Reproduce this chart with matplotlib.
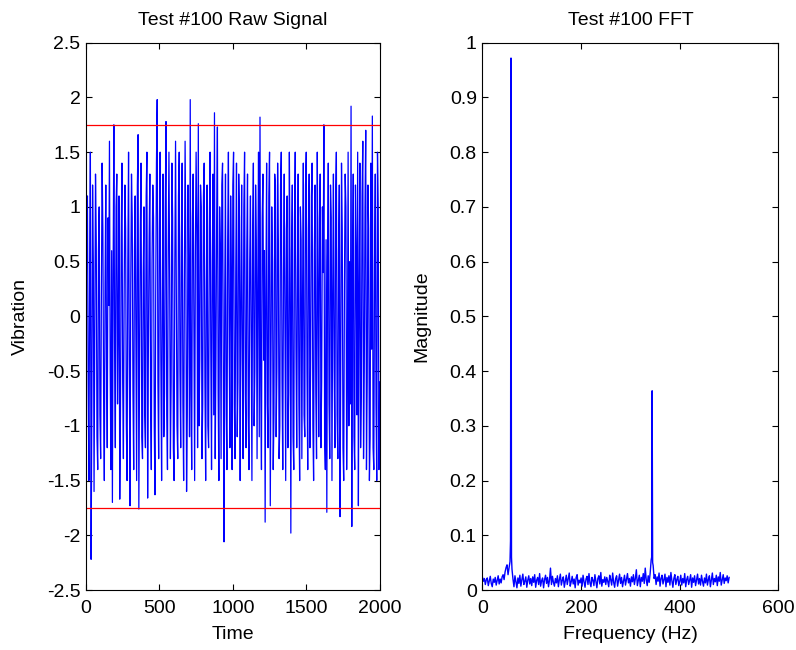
import numpy as np
import matplotlib
matplotlib.use("Agg")
import matplotlib.pyplot as plt

plt.rcParams['font.family'] = ['Liberation Sans', 'DejaVu Sans']

# ---- Raw signal (time step 5) ----
signal_step = 5
signal_values = [
    -0.3, 0.9, 1.1, -0.6, -1.5, 0.4, 1.5, -2.22, -0.8, 1.2, 0.5, -1.6, -0.2, 1.3, 0.7, -1.1, -1.4, 0.6, 1.0, -0.9,
    -1.3, 0.2, 1.4, 0.8, -0.7, -1.5, 0.3, 1.2, -0.4, -1.2, 0.9, 0.1, 1.6, -0.5, -1.4, 0.6, -1.70, 0.4, 1.75, -0.3,
    -1.2, 1.0, 1.3, -0.8, -0.1, 1.1, -1.67, -0.9, 0.7, 1.4, -0.6, -1.3, 0.2, 1.2, 0.8, -1.0, -1.5, 0.5, 1.5, -0.4,
    -1.73, 0.3, 1.3, 0.9, -0.7, -1.4, 0.6, 1.1, -0.2, -1.5, 1.2, 1.66, -1.76, -0.5, 0.8, 1.4, -1.1, -1.3, 0.4, 1.0,
    -0.9, -1.2, 1.1, 1.5, -1.66, -0.3, 0.7, 1.3, -0.8, -1.4, 0.5, 1.2, 0.9, -1.0, -1.63, 0.2, 1.4, 1.98, -0.6, -1.3,
    0.8, 1.5, -0.4, -1.5, 0.1, 1.3, -1.1, -0.7, 1.0, 1.78, -0.9, -1.4, 0.6, 1.5, 0.3, -1.3, -0.6, 1.4, 0.9, -1.2,
    -1.5, 0.5, 1.6, 0.2, -1.0, -1.3, 1.1, 1.5, -0.5, -1.2, 0.7, 1.4, -0.8, -1.5, 0.3, 1.6, 0.6, -1.6, -0.9, 1.2,
    0.4, -1.1, 1.98, -0.7, -1.4, 0.9, 1.3, -0.2, -1.5, 0.6, 1.5, 0.8, -1.2, 1.76, -1.0, -0.4, 1.2, 1.0, -1.3, -0.8,
    1.1, 1.4, -0.6, -1.5, 0.3, 1.2, -1.0, -1.2, 0.8, 1.5, -0.3, -1.4, 0.5, 1.3, -0.9, 1.86, -1.3, -0.4, 0.9, 1.73,
    -0.7, -1.5, 1.0, 0.6, -1.3, 1.2, 1.4, -0.5, -2.06, 0.2, 1.3, -0.9, -1.4, 0.7, 1.5, -0.2, -1.2, 1.1, 0.4, -1.4,
    1.2, 1.5, -0.8, -1.3, 0.4, 1.4, -1.1, -0.6, 1.3, 0.9, -1.5, 0.1, 1.2, -0.4, -1.3, 1.0, 1.5, -0.7, -1.2, 0.6,
    1.3, -0.9, -1.4, 0.5, 1.1, -0.3, -1.5, 0.8, 1.4, -1.0, -0.5, 1.2, 0.7, -1.3, 0.3, 1.5, -1.1, 1.82, -0.6, -1.4,
    0.9, 1.3, -0.4, 0.6, -1.88, 0.2, 1.4, -0.8, -1.2, 1.1, 1.5, -1.73, -0.3, 1.0, 0.5, -1.4, -0.9, 1.3, 1.2, -1.1,
    -0.5, 1.4, 0.7, -1.3, -1.0, 1.2, 1.5, -0.6, -1.4, 0.4, 1.3, -0.2, -1.5, 0.8, 1.1, -1.2, -0.7, 1.5, 0.3, -1.98,
    0.6, 1.2, -1.1, -1.4, 0.9, 1.5, -0.3, -1.2, 0.4, 1.3, -0.8, -1.5, 1.0, 0.7, -1.3, 0.2, 1.4, -0.9, -1.1, 1.2,
    1.5, -0.5, -1.4, 0.8, 1.3, -1.2, -0.4, 1.1, 1.4, -1.0, -1.5, 0.6, 1.2, -0.7, -1.3, 1.5, 0.3, -1.1, 0.9, 1.3,
    -1.2, -0.6, 1.0, 0.4, 1.75, -1.1, -1.4, 0.7, -1.79, 0.5, 1.4, -0.8, -1.3, 1.2, 0.9, -1.5, 0.2, 1.3, -0.5, -1.2,
    1.1, 1.5, -0.9, -1.3, 0.6, 1.2, -1.83, -0.4, 1.4, 0.8, -1.2, -1.5, 0.3, 1.3, 1.0, -1.4, -0.6, 1.5, -1.0, 0.5,
    -0.8, 1.92, -1.92, 0.4, 1.3, -1.1, -1.4, 1.2, 0.6, -0.9, 1.5, -1.73, 0.2, 1.4, -1.2, -0.7, 1.1, 1.6, -1.3, -0.5,
    1.0, 1.70, -1.4, -0.6, 1.2, 0.8, -1.5, -1.1, 1.4, -0.3, 1.83, -1.2, -1.4, 0.5, 1.3, -0.8, -1.5, 1.5, 1.0, -1.4,
    -0.6,
]
threshold_upper = 1.75
threshold_lower = -1.75

# ---- FFT magnitude (frequency step 2 Hz) ----
fft_step = 2
fft_values = [
    0.024, 0.016, 0.021, 0.010, 0.019, 0.022, 0.008, 0.017, 0.025, 0.012, 0.006, 0.020, 0.014, 0.023, 0.009, 0.018, 0.026, 0.011, 0.020, 0.013, 0.024, 0.028, 0.019, 0.033, 0.041,
    0.046, 0.028, 0.040, 0.052, 0.972, 0.038, 0.020, 0.006, 0.026, 0.015, 0.004, 0.022, 0.012, 0.027, 0.007, 0.019, 0.029, 0.010, 0.016, 0.024, 0.005, 0.018, 0.026, 0.011, 0.021,
    0.008, 0.024, 0.014, 0.028, 0.005, 0.018, 0.023, 0.010, 0.030, 0.007, 0.017, 0.022, 0.004, 0.019, 0.027, 0.012, 0.023, 0.006, 0.018, 0.040, 0.010, 0.025, 0.014, 0.007, 0.021,
    0.013, 0.026, 0.006, 0.019, 0.029, 0.009, 0.018, 0.024, 0.005, 0.016, 0.027, 0.010, 0.021, 0.031, 0.007, 0.015, 0.025, 0.011, 0.020, 0.004, 0.023, 0.028, 0.009, 0.018, 0.013,
    0.022, 0.007, 0.027, 0.015, 0.005, 0.020, 0.025, 0.010, 0.030, 0.013, 0.006, 0.023, 0.018, 0.008, 0.028, 0.016, 0.004, 0.021, 0.026, 0.011, 0.032, 0.007, 0.019, 0.014, 0.024,
    0.010, 0.023, 0.016, 0.006, 0.027, 0.019, 0.009, 0.031, 0.014, 0.005, 0.021, 0.026, 0.007, 0.018, 0.029, 0.012, 0.023, 0.006, 0.017, 0.027, 0.009, 0.020, 0.030, 0.013, 0.021,
    0.007, 0.024, 0.015, 0.028, 0.010, 0.021, 0.037, 0.008, 0.018, 0.027, 0.006, 0.023, 0.016, 0.030, 0.012, 0.040, 0.019, 0.008, 0.026, 0.014, 0.031, 0.055, 0.364, 0.045, 0.021,
    0.028, 0.010, 0.024, 0.016, 0.031, 0.007, 0.021, 0.027, 0.011, 0.019, 0.029, 0.006, 0.023, 0.014, 0.026, 0.009, 0.032, 0.017, 0.005, 0.021, 0.028, 0.010, 0.019, 0.025, 0.008,
    0.016, 0.027, 0.009, 0.021, 0.013, 0.030, 0.006, 0.019, 0.025, 0.010, 0.018, 0.028, 0.005, 0.022, 0.014, 0.026, 0.008, 0.019, 0.029, 0.011, 0.021, 0.009, 0.027, 0.016, 0.007,
    0.022, 0.013, 0.029, 0.009, 0.019, 0.026, 0.006, 0.018, 0.031, 0.010, 0.021, 0.015, 0.027, 0.008, 0.024, 0.016, 0.032, 0.009, 0.019, 0.028, 0.012, 0.022, 0.017, 0.026, 0.013,
    0.023,
]
# extra finely-spaced points around the two peaks
fine_freqs = [57, 59, 343, 345]
fine_values = [0.09, 0.06, 0.06, 0.05]

raw_xticks = [0, 500, 1000, 1500, 2000]
raw_yticks = [-2.5, -2, -1.5, -1, -0.5, 0, 0.5, 1, 1.5, 2, 2.5]
fft_xticks = [0, 200, 400, 600]
fft_yticks = [0, 0.1, 0.2, 0.3, 0.4, 0.5, 0.6, 0.7, 0.8, 0.9, 1]

# ---- build arrays ----
t = np.arange(len(signal_values)) * signal_step
sig = np.array(signal_values)

f_coarse = np.arange(len(fft_values)) * fft_step
f_all = np.concatenate([f_coarse, fine_freqs])
m_all = np.concatenate([fft_values, fine_values])
order = np.argsort(f_all, kind="stable")
f_all = f_all[order]
m_all = m_all[order]

FS = 14

fig = plt.figure(figsize=(7.96, 6.5), dpi=100)
ax1 = fig.add_axes([0.108, 0.0923, 0.369, 0.842])
ax2 = fig.add_axes([0.606, 0.0923, 0.372, 0.842])

def matlab_style(ax):
    for s in ax.spines.values():
        s.set_linewidth(0.8)
        s.set_color('black')
    ax.tick_params(direction='in', top=True, right=True, length=4, width=0.8,
                   labelsize=FS, colors='black')
    ax.tick_params(axis='x', pad=7.5)
    ax.tick_params(axis='y', pad=4)

ax1.plot(t, sig, color='blue', linewidth=0.9)
ax1.axhline(threshold_upper, color='red', linewidth=0.9)
ax1.axhline(threshold_lower, color='red', linewidth=0.9)
ax1.set_xlim(0, 2000)
ax1.set_ylim(-2.5, 2.5)
ax1.set_xticks(raw_xticks)
ax1.set_xticklabels([f"{v:g}" for v in raw_xticks])
ax1.set_yticks(raw_yticks)
ax1.set_yticklabels([f"{v:g}" for v in raw_yticks])
ax1.set_title("Test #100 Raw Signal", fontsize=FS, pad=12.5)
ax1.set_xlabel("Time", fontsize=FS)
ax1.set_ylabel("Vibration", fontsize=FS)
ax1.xaxis.set_label_coords(0.5, -0.066)
ax1.yaxis.set_label_coords(-0.194, 0.5)
matlab_style(ax1)

ax2.plot(f_all, m_all, color='blue', linewidth=1.0)
ax2.set_xlim(0, 600)
ax2.set_ylim(0, 1)
ax2.set_xticks(fft_xticks)
ax2.set_xticklabels([f"{v:g}" for v in fft_xticks])
ax2.set_yticks(fft_yticks)
ax2.set_yticklabels([f"{v:g}" for v in fft_yticks])
ax2.set_title("Test #100 FFT", fontsize=FS, pad=12.5)
ax2.set_xlabel("Frequency (Hz)", fontsize=FS)
ax2.set_ylabel("Magnitude", fontsize=FS)
ax2.xaxis.set_label_coords(0.5, -0.066)
ax2.yaxis.set_label_coords(-0.177, 0.5)
matlab_style(ax2)

fig.savefig("out.png", dpi=100, facecolor='white')
